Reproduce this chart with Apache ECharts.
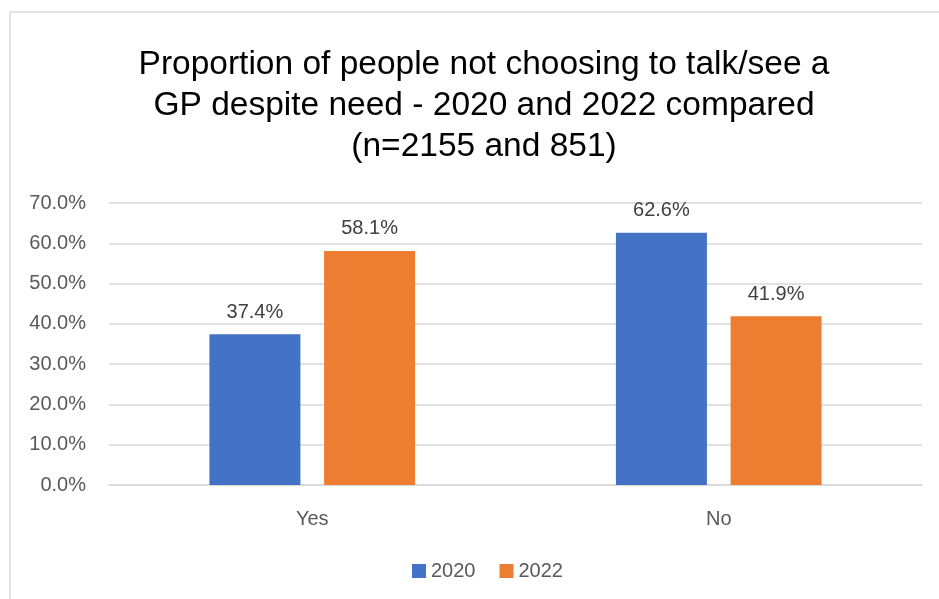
<!DOCTYPE html>
<html>
<head>
<meta charset="utf-8">
<script src="https://cdn.jsdelivr.net/npm/echarts@6/dist/echarts.min.js"></script>
<style>
html, body { margin: 0; padding: 0; background: #fff; }
#main { width: 939px; height: 599px; }
</style>
</head>
<body>
<div id="main"></div>
<script>
var categories = ['Yes', 'No'];
var seriesNames = ['2020', '2022'];
var values2020 = [37.4, 62.6];
var values2022 = [58.1, 41.9];
var yTicks = [0, 10, 20, 30, 40, 50, 60, 70];

var myChart = echarts.init(document.getElementById('main'));

var labelStyle = {
    show: true,
    position: 'top',
    distance: 12,
    color: '#404040',
    fontSize: 20,
    fontFamily: 'Liberation Sans',
    formatter: function (p) { return p.value.toFixed(1) + '%'; }
};

var option = {
    backgroundColor: '#fff',
    animation: false,
    graphic: [{
        type: 'rect',
        shape: { x: 10, y: 12, width: 960, height: 620 },
        style: { fill: 'none', stroke: '#d9d9d9', lineWidth: 1.5 },
        silent: true
    }],
    title: {
        text: 'Proportion of people not choosing to talk/see a\nGP despite need - 2020 and 2022 compared\n(n=2155 and 851)',
        left: 479,
        top: 39,
        textAlign: 'center',
        textStyle: {
            fontFamily: 'Liberation Sans',
            fontSize: 33.5,
            fontWeight: 'normal',
            color: '#000',
            lineHeight: 41
        }
    },
    legend: {
        data: seriesNames,
        bottom: 13,
        left: 407,
        itemWidth: 14,
        itemHeight: 14,
        itemGap: 24,
        icon: 'rect',
        textStyle: { fontFamily: 'Liberation Sans', fontSize: 20, color: '#595959' }
    },
    grid: {
        left: 109,
        right: 17,
        top: 203,
        bottom: 114,
        containLabel: false
    },
    xAxis: {
        type: 'category',
        data: categories,
        axisLine: { lineStyle: { color: '#d9d9d9', width: 1.5 } },
        axisTick: { show: false },
        axisLabel: { fontFamily: 'Liberation Sans', fontSize: 20, color: '#595959', margin: 24 }
    },
    yAxis: {
        type: 'value',
        min: yTicks[0],
        max: yTicks[yTicks.length - 1],
        interval: 10,
        axisLine: { show: false },
        axisTick: { show: false },
        splitLine: { lineStyle: { color: '#d9d9d9', width: 1.5 } },
        axisLabel: {
            fontFamily: 'Liberation Sans',
            fontSize: 20,
            color: '#595959',
            margin: 23,
            formatter: function (v) { return v.toFixed(1) + '%'; }
        }
    },
    series: [{
        name: seriesNames[0],
        type: 'bar',
        data: values2020,
        barWidth: 91,
        barGap: '26%',
        itemStyle: { color: '#4472c4' },
        label: labelStyle
    }, {
        name: seriesNames[1],
        type: 'bar',
        data: values2022,
        barWidth: 91,
        barGap: '26%',
        itemStyle: { color: '#ed7d31' },
        label: labelStyle
    }]
};

myChart.setOption(option);
</script>
</body>
</html>
